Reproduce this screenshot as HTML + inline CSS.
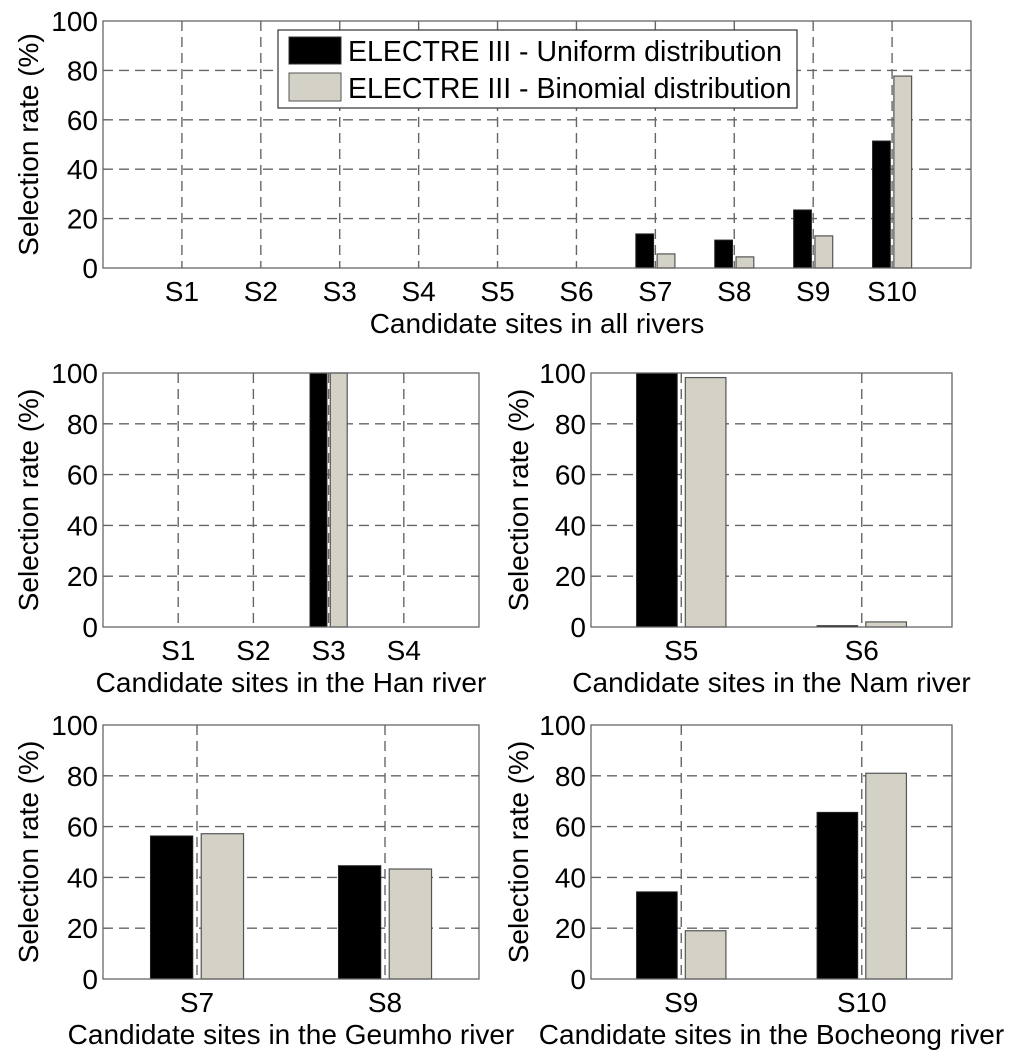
<!DOCTYPE html>
<html><head><meta charset="utf-8"><style>
html,body{margin:0;padding:0;background:#fff}
svg{display:block}
text{font-family:"Liberation Sans",Arial,sans-serif;fill:#000}
</style></head><body>
<svg id="fig" width="1024" height="1056" viewBox="0 0 1024 1056" xmlns="http://www.w3.org/2000/svg">
<g id="legend">
<rect x="278" y="30" width="519" height="78" fill="#fff" stroke="#333" stroke-width="1.2"/>
<g>
<rect x="289" y="37" width="52" height="27" fill="#000" stroke="#333"/>
<text x="348" y="61" font-size="28.5">ELECTRE III - Uniform distribution</text></g>
<g>
<rect x="289" y="73" width="52" height="28" fill="#d4d1c6" stroke="#555"/>
<text x="348" y="98" font-size="28.5">ELECTRE III - Binomial distribution</text></g>
</g>
</svg>
<script>
// Panel data
const allCats = ["S1","S2","S3","S4","S5","S6","S7","S8","S9","S10"];
const allUniform = [0,0,0,0,0,0,13.8,11.3,23.5,51.4];
const allBinomial = [0,0,0,0,0,0,5.7,4.5,13,77.7];
const hanCats = ["S1","S2","S3","S4"];
const hanUniform = [0,0,100,0];
const hanBinomial = [0,0,100,0];
const namCats = ["S5","S6"];
const namUniform = [100,0.5];
const namBinomial = [98.2,2];
const geumhoCats = ["S7","S8"];
const geumhoUniform = [56.3,44.6];
const geumhoBinomial = [57.2,43.3];
const bocheongCats = ["S9","S10"];
const bocheongUniform = [34.3,65.6];
const bocheongBinomial = [19,81];
const yTicks = [0,20,40,60,80,100];

const NS="http://www.w3.org/2000/svg";
const svg=document.getElementById('fig');
const legend=document.getElementById('legend');
function mk(tag,attrs,parent){const e=document.createElementNS(NS,tag);for(const k in attrs)e.setAttribute(k,attrs[k]);parent.appendChild(e);return e;}

function panel(name,box,cats,uni,bin,xmin,xmax,xlabel,ylabX){
  const g=mk('g',{},svg);
  
  
  svg.insertBefore(g,legend);
  const {l,r,t,b}=box;
  const xs=v=>l+(v-xmin)/(xmax-xmin)*(r-l);
  const ys=v=>b-(v/100)*(b-t);
  const unit=(r-l)/(xmax-xmin);
  yTicks.forEach(v=>{ if(v>0&&v<100){const ln=mk('line',{x1:l,x2:r,y1:ys(v),y2:ys(v),stroke:'#666','stroke-width':1.4,'stroke-dasharray':'10,6'},g);
    
    }});
  cats.forEach((c,i)=>{const ln=mk('line',{x1:xs(i+1),x2:xs(i+1),y1:t,y2:b,stroke:'#666','stroke-width':1.4,'stroke-dasharray':'10,6'},g);
    
    });
  const w=0.225*unit, off=0.135*unit;
  cats.forEach((c,i)=>{
    const cx=xs(i+1);
    if(uni[i]>0){const rb=mk('rect',{x:cx-off-w/2,y:ys(uni[i]),width:w,height:b-ys(uni[i]),fill:'#000',stroke:'#222','stroke-width':1},g);
      
      }
    if(bin[i]>0){const rb=mk('rect',{x:cx+off-w/2,y:ys(bin[i]),width:w,height:b-ys(bin[i]),fill:'#d4d1c6',stroke:'#555','stroke-width':1.2},g);
      
      }
  });
  const bx=mk('rect',{x:l,y:t,width:r-l,height:b-t,fill:'none',stroke:'#666','stroke-width':1.3},g);
  
  
  yTicks.forEach(v=>{
    mk('line',{x1:l,x2:l+6,y1:ys(v),y2:ys(v),stroke:'#666'},g);
    mk('line',{x1:r,x2:r-6,y1:ys(v),y2:ys(v),stroke:'#666'},g);
    const tx=mk('text',{x:l-5,y:ys(v)+10,'font-size':28,'text-anchor':'end'},g);
    tx.textContent=v;
    
    
  });
  cats.forEach((c,i)=>{
    const tx=mk('text',{x:xs(i+1),y:b+33,'font-size':28,'text-anchor':'middle'},g);
    tx.textContent=c;
    
    
  });
  const xl=mk('text',{x:(l+r)/2,y:b+65,'font-size':28,'text-anchor':'middle'},g);
  xl.textContent=xlabel;
  
  
  const yc=(t+b)/2;
  const yl=mk('text',{x:ylabX,y:yc,'font-size':28,'text-anchor':'middle',transform:`rotate(-90 ${ylabX} ${yc})`},g);
  yl.textContent='Selection rate (%)';
  
  
}
panel('chart-all-rivers',{l:103,r:971,t:21,b:268},allCats,allUniform,allBinomial,0,11,'Candidate sites in all rivers',38);
panel('chart-han-river',{l:103,r:479,t:373,b:627},hanCats,hanUniform,hanBinomial,0,5,'Candidate sites in the Han river',38);
panel('chart-nam-river',{l:591,r:952,t:373,b:627},namCats,namUniform,namBinomial,0.5,2.5,'Candidate sites in the Nam river',528);
panel('chart-geumho-river',{l:103,r:479,t:725,b:979},geumhoCats,geumhoUniform,geumhoBinomial,0.5,2.5,'Candidate sites in the Geumho river',38);
panel('chart-bocheong-river',{l:591,r:952,t:725,b:979},bocheongCats,bocheongUniform,bocheongBinomial,0.5,2.5,'Candidate sites in the Bocheong river',528);
</script>
</body></html>
